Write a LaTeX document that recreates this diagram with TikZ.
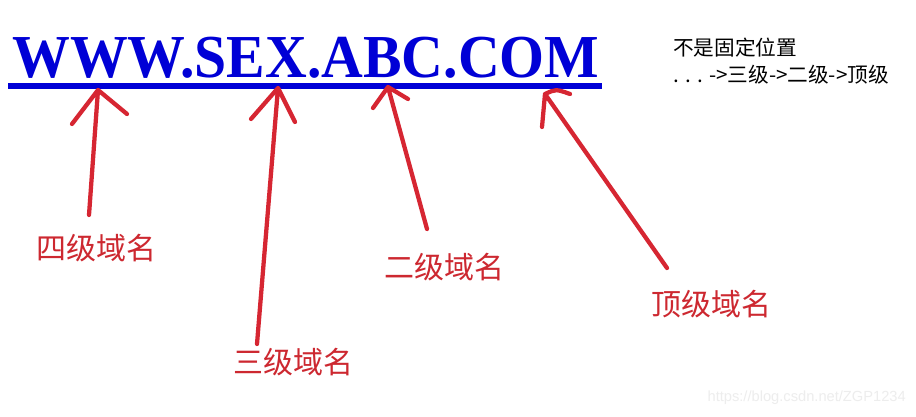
\documentclass[tikz,border=0pt]{standalone}
\usepackage{fontspec}
\setmainfont{Liberation Serif}
\newfontfamily\cjk{Noto Sans CJK SC}
\newfontfamily\wmfont{Liberation Sans}
\usetikzlibrary{positioning}
\definecolor{urlblue}{RGB}{0,0,214}
\definecolor{penred}{RGB}{214,38,50}
\definecolor{labelred}{RGB}{205,40,48}

\begin{document}
\begin{tikzpicture}[x=0.75pt,y=-0.75pt,
    pen/.style={penred,line width=3.2pt,line cap=round,line join=round},
    level/.style={labelred,font=\cjk\fontsize{22.5}{24}\selectfont,inner sep=0pt},
    note/.style={font=\cjk\fontsize{15.5}{17}\selectfont,inner sep=0pt,anchor=west}]
    \useasboundingbox[fill=white] (0,0) rectangle (916,417);

    % the domain name
    \node[urlblue,font=\bfseries\fontsize{44}{44}\selectfont,inner sep=0pt,anchor=base west] (url) at (12,78) {\scalebox{0.985}[1.04]{WWW.SEX.ABC.COM}};
    \coordinate (ulstart) at (8,86);
    \coordinate (ulend) at (602,86);
    \draw[urlblue,line width=4pt] (ulstart) -- (ulend);

    % labels
    \node[level] (fourth) at (96,248) {四级域名};
    \node[level] (third) at (293,362) {三级域名};
    \node[level] (second) at (444,267) {二级域名};
    \node[level] (top) at (711,304) {顶级域名};

    % arrow ends
    \coordinate (fourthtip) at (98,90);
    \coordinate (fourthtail) at (89,215);
    \coordinate (thirdtip) at (278,88);
    \coordinate (thirdtail) at (257,344);
    \coordinate (secondtip) at (388,87);
    \coordinate (secondtail) at (427,229);
    \coordinate (toptip) at (545,94);
    \coordinate (toptail) at (667,268);

    \draw[pen] (fourthtail) -- (fourthtip) (72,124) -- (fourthtip) -- (127,114);
    \draw[pen] (thirdtail) -- (thirdtip) (251,119) -- (thirdtip) -- (295,122);
    \draw[pen] (secondtail) -- (secondtip) (373,108) -- (secondtip) -- (408,99);
    \draw[pen] (toptail) -- (toptip) (542,127) -- (toptip) .. controls (556,89) .. (570,94);

    % note on the right
    \node[note] (note1) at (673,48) {不是固定位置};
    \node[note] (note2) at (673,75) {. . . ->三级->二级->顶级};

    \node[gray!14,font=\wmfont\fontsize{11}{12}\selectfont,inner sep=0pt,anchor=east] (mark) at (906,398) {https://blog.csdn.net/ZGP1234};
\end{tikzpicture}
\end{document}
